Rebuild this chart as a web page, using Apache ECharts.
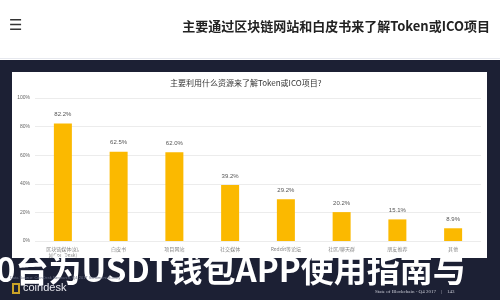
<!DOCTYPE html>
<html><head><meta charset="utf-8">
<script src="https://cdn.jsdelivr.net/npm/echarts@6/dist/echarts.min.js"></script>
<style>html,body{margin:0;padding:0;background:#fff}#c{width:500px;height:300px}</style>
</head><body><div id="c"></div>
<script>
const categories = ['区块链媒体(如,\n如CoinDesk)', '白皮书', '项目网站', '社交媒体', 'Reddit等论坛', '社区/聊天群', '朋友推荐', '其他'];
const values = [82.2, 62.5, 62.0, 39.2, 29.2, 20.2, 15.1, 8.9];
const yTicks = [0, 20, 40, 60, 80, 100];
const headerTitle = '主要通过区块链网站和白皮书来了解Token或ICO项目';
const chartTitle = '主要利用什么资源来了解Token或ICO项目?';
const bannerText = '0台为USDT钱包APP使用指南与';

const chart = echarts.init(document.getElementById('c'), null, {renderer: 'canvas'});
chart.setOption({
  animation: false,
  backgroundColor: '#ffffff',
  graphic: [
    {type: 'rect', z: -10, shape: {x: 0, y: 60, width: 500, height: 240}, style: {fill: '#1c2034'}},
    {type: 'line', z: -9, shape: {x1: 0, y1: 58.5, x2: 500, y2: 58.5}, style: {stroke: '#e6e8ee', lineWidth: 1}},
    {type: 'rect', z: -9, shape: {x: 12, y: 72, width: 475, height: 186}, style: {fill: '#ffffff'}},
    {type: 'text', left: 9, top: 19, style: {text: '☰', fill: '#333', font: '15px "DejaVu Sans"'}},
    {type: 'text', right: 10, top: 20, style: {text: headerTitle, fill: '#222', font: 'bold 13px "Noto Sans CJK SC"'}},
    {type: 'text', left: 170, top: 79, style: {text: chartTitle, fill: '#333', font: '8px "Noto Sans CJK SC"'}},
    {type: 'text', left: -4, top: 253, z: 20, style: {text: bannerText, fill: '#ffffff', font: 'bold 33px "Noto Sans CJK SC"'}},
    {type: 'text', left: 10, top: 276, z: 21, style: {text: 'Data Source: CoinDesk Research, Q4 2017 Sentiment Survey', fill: '#6b7085', font: '4px "Liberation Sans"'}},
    {type: 'rect', z: 21, shape: {x: 12, y: 283, width: 8, height: 11}, style: {fill: '#c9a227'}},
    {type: 'rect', z: 22, shape: {x: 14, y: 285, width: 4, height: 7}, style: {fill: '#1c2034'}},
    {type: 'text', left: 23, top: 282, z: 21, style: {text: 'coindesk', fill: '#e8e8ee', font: '11px "Liberation Sans"'}},
    {type: 'text', left: 375, top: 289, z: 21, style: {text: 'State of Blockchain - Q4 2017    |    143', fill: '#c8cad4', font: '5px "Liberation Serif"'}}
  ],
  grid: {left: 35, right: 19, top: 98, bottom: 59, containLabel: false},
  xAxis: {
    type: 'category', data: categories,
    axisLine: {show: false}, axisTick: {show: false},
    axisLabel: {color: '#888', fontSize: 5, margin: 5, lineHeight: 6, interval: 0, fontFamily: 'Noto Sans CJK SC'}
  },
  yAxis: {
    type: 'value', min: yTicks[0], max: yTicks[yTicks.length - 1], interval: 20,
    axisLine: {show: false}, axisTick: {show: false},
    axisLabel: {color: '#666', fontSize: 5, margin: 5, formatter: v => v + '%', fontFamily: 'Liberation Sans'},
    splitLine: {lineStyle: {color: '#ececec', width: 1}}
  },
  series: [{
    type: 'bar', data: values, barWidth: 18,
    itemStyle: {color: '#fbb900'},
    label: {show: true, position: 'top', distance: 6, color: '#555', fontSize: 6, fontFamily: 'Liberation Sans', formatter: p => p.value.toFixed(1) + '%'}
  }]
});
</script></body></html>
